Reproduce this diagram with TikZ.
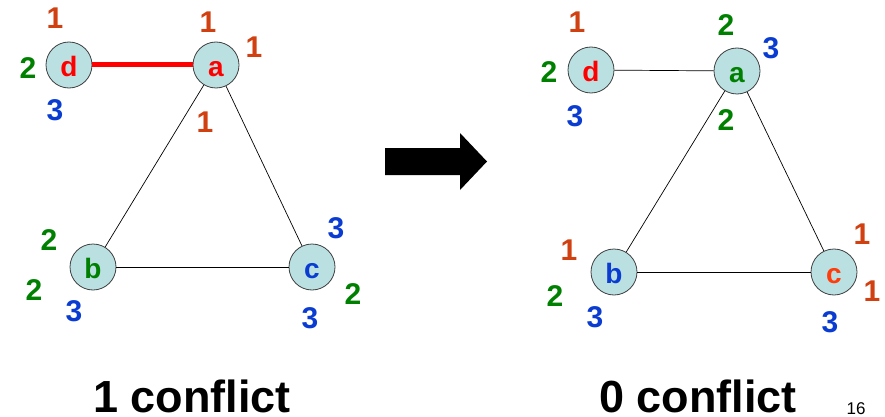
\documentclass[tikz,border=0pt]{standalone}
\usepackage{fontspec}
\setmainfont{Liberation Sans}
\definecolor{cone}{RGB}{208,64,16}
\definecolor{ctwo}{RGB}{0,128,0}
\definecolor{cthree}{RGB}{10,60,210}
\definecolor{cfill}{RGB}{186,224,226}
\definecolor{cred}{RGB}{255,0,0}
\definecolor{corange}{RGB}{255,60,10}
\tikzset{
  vert/.style={circle,draw=black!75,line width=0.8pt,fill=cfill,minimum size=46pt,inner sep=0pt,
    font=\fontsize{28}{28}\selectfont\bfseries,text height=23pt,text depth=0pt},
  lab/.style={inner sep=0pt,font=\fontsize{30}{30}\selectfont\bfseries},
  l1/.style={lab,text=cone},
  l2/.style={lab,text=ctwo},
  l3/.style={lab,text=cthree},
  edge/.style={draw=black,line width=0.7pt},
  badedge/.style={draw=cred,line width=5pt},
  caption/.style={inner sep=0pt,font=\fontsize{45}{45}\selectfont\bfseries,anchor=base}
}
\begin{document}
\begin{tikzpicture}[x=1pt,y=-1pt]
\useasboundingbox (0,0) rectangle (885,417);
% ---------- left graph ----------
\node[vert,text=cred] (Ld) at (69,65) {d};
\node[vert,text=cred] (La) at (216,65) {a};
\node[vert,text=ctwo] (Lb) at (93,267) {b};
\node[vert,text=cthree] (Lc) at (312,267) {c};
\draw[badedge] (Ld) -- (La);
\draw[edge] (La) -- (Lb);
\draw[edge] (La) -- (Lc);
\draw[edge] (Lb) -- (Lc);
\node[l1] (Ld1) at (55,18) {1};
\node[l2] (Ld2) at (28,68) {2};
\node[l3] (Ld3) at (55,110) {3};
\node[l1] (La1) at (208,22) {1};
\node[l1] (La2) at (254,47) {1};
\node[l1] (La3) at (205,122) {1};
\node[l2] (Lb1) at (49,240) {2};
\node[l2] (Lb2) at (34,290) {2};
\node[l3] (Lb3) at (74,311) {3};
\node[l3] (Lc1) at (336,228) {3};
\node[l2] (Lc2) at (353,294) {2};
\node[l3] (Lc3) at (310,318) {3};
% ---------- arrow ----------
\fill[black] (385,148) -- (460,148) -- (460,133) -- (487,161.5) -- (460,190) -- (460,175) -- (385,175) -- cycle;
% ---------- right graph ----------
\node[vert,text=cred] (Rd) at (591,70) {d};
\node[vert,text=ctwo] (Ra) at (737,71) {a};
\node[vert,text=cthree] (Rb) at (614,272) {b};
\node[vert,text=corange] (Rc) at (834,272) {c};
\draw[edge] (Rd) -- (Ra);
\draw[edge] (Ra) -- (Rb);
\draw[edge] (Ra) -- (Rc);
\draw[edge] (Rb) -- (Rc);
\node[l1] (Rd1) at (577,22) {1};
\node[l2] (Rd2) at (549,72) {2};
\node[l3] (Rd3) at (575,116) {3};
\node[l2] (Ra1) at (726,25) {2};
\node[l3] (Ra2) at (771,48) {3};
\node[l2] (Ra3) at (726,120) {2};
\node[l1] (Rb1) at (569,250) {1};
\node[l2] (Rb2) at (555,296) {2};
\node[l3] (Rb3) at (595,317) {3};
\node[l1] (Rc1) at (862,234) {1};
\node[l1] (Rc2) at (872,291) {1};
\node[l3] (Rc3) at (830,322) {3};
% ---------- captions ----------
\node[caption] (capL) at (192,412) {1 conflict};
\node[caption] (capR) at (698,412) {0 conflict};
\node[inner sep=0pt,anchor=base,font=\fontsize{17}{17}\selectfont] (pg) at (856,414) {16};
\end{tikzpicture}
\end{document}
